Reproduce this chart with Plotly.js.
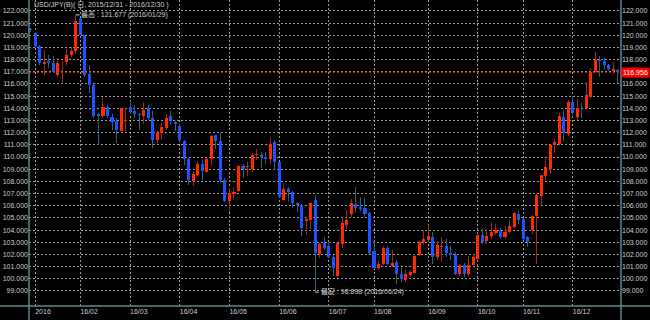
<!DOCTYPE html>
<html>
<head>
<meta charset="utf-8">
<script src="https://cdn.plot.ly/plotly-3.0.1.min.js"></script>
<style>
  html, body { margin: 0; padding: 0; background: #000; }
  #chart { width: 650px; height: 320px; }
</style>
</head>
<body>
<div id="chart"></div>
<script>
// ---- data (USD/JPY candles) ----
const open = [120.5,120.2,119.1,117.65,117.9,117.7,116.7,117.7,117.8,118.35,
118.7,121.3,120.0,116.8,115.9,113.55,113.35,114.15,113.3,113.0,
112.15,113.0,114.15,113.75,113.55,113.4,114.0,113.2,111.4,112.0,
112.4,113.35,112.85,112.55,111.3,109.85,108.0,108.5,109.4,108.75,
109.85,111.8,111.35,108.15,106.4,107.0,107.2,109.3,109.2,109.0,
110.15,110.2,110.0,109.85,111.2,109.55,106.45,107.4,107.1,106.25,
106.05,104.75,104.8,106.45,102.0,102.95,102.7,101.8,100.2,102.85,
104.4,105.35,106.1,105.9,105.85,105.4,102.25,100.85,101.2,102.5,
101.05,101.35,100.35,99.9,100.3,100.45,101.95,103.0,103.2,103.45,
101.75,102.6,102.65,102.1,101.95,100.35,101.1,100.35,101.15,101.65,
103.6,103.1,103.5,103.75,103.9,103.45,103.85,104.25,105.35,104.9,
103.4,104.0,105.15,106.8,108.45,109.05,110.95,111.1,113.3,111.9,
114.55,113.25,114.05,114.0,114.95,117.0,118.0,117.9,117.55,117.05,
117.15];
const high = [120.6,120.3,119.2,118.8,118.4,118.3,118.1,117.8,118.9,119.0,
121.677,121.4,120.05,117.6,116.0,113.6,114.9,114.3,113.5,113.2,
114.0,114.0,114.6,114.3,113.6,114.5,114.3,113.75,112.1,112.8,
113.5,113.8,112.95,112.7,111.4,109.9,108.85,109.6,109.75,109.9,
111.85,111.85,111.95,108.25,107.45,107.55,109.35,109.4,109.6,110.3,
110.7,110.45,110.45,111.55,111.4,109.6,107.9,107.5,107.2,106.3,
106.1,105.1,106.3,106.9,102.9,103.45,102.9,101.95,102.9,105.1,
105.65,106.55,107.5,106.7,106.6,105.45,103.05,101.55,102.65,102.65,
102.35,101.55,101.15,100.7,100.7,102.0,103.1,104.0,104.4,103.85,
103.1,103.45,103.3,102.65,102.2,101.2,101.3,101.9,102.0,103.6,
104.2,104.05,104.7,104.5,104.2,104.3,104.85,105.45,105.6,104.95,
103.5,105.2,106.95,108.55,109.8,111.05,111.45,113.6,113.9,114.7,
115.0,114.8,114.4,116.2,117.35,118.65,118.3,118.1,117.65,117.8,
117.2];
const low = [120.3,119.0,117.6,116.75,117.3,116.9,116.6,116.0,117.6,118.2,
118.5,120.0,116.6,115.3,113.2,111.0,113.2,113.2,112.25,111.15,
112.1,112.1,113.5,113.2,112.25,112.7,113.05,110.75,111.15,111.4,
112.25,112.65,112.1,111.3,109.35,107.7,107.65,108.4,107.9,108.65,
109.3,110.7,107.95,106.3,105.5,106.45,107.15,108.25,108.45,108.75,
109.75,109.1,109.45,109.45,108.9,106.6,106.4,106.4,105.8,105.45,
103.55,103.6,104.1,98.898,101.7,102.4,101.7,100.25,100.05,102.5,
104.1,105.1,105.45,105.6,105.1,102.0,100.8,100.7,101.15,101.15,
100.95,99.55,99.75,99.75,100.15,100.35,101.9,102.8,103.05,101.25,
101.55,101.4,101.8,101.55,100.3,100.2,100.15,100.25,100.9,101.6,
102.85,102.85,103.3,103.6,103.25,103.3,103.75,104.15,104.5,103.2,
102.6,103.7,101.2,106.05,107.85,108.6,110.3,110.9,111.35,111.7,
113.45,113.05,113.2,113.9,114.75,116.9,116.55,117.2,117.1,117.0,
116.05];
const close = [120.4,119.1,117.75,117.8,117.7,117.0,117.7,117.75,118.4,118.7,
121.15,120.05,116.75,115.95,113.35,113.4,114.15,113.35,112.9,112.2,
114.0,113.05,113.7,113.55,113.45,113.9,113.2,111.4,112.0,112.5,
113.2,112.95,112.75,111.4,109.85,108.1,108.6,109.4,108.85,109.85,
111.75,111.35,108.1,106.4,107.05,107.15,109.3,109.05,109.3,110.2,
110.25,110.0,109.8,111.1,109.55,106.7,107.4,107.1,106.2,106.05,
104.2,104.9,106.2,102.1,102.85,102.55,101.8,100.85,102.9,104.55,
104.85,106.2,105.85,105.75,105.3,102.1,100.9,101.25,102.55,101.25,
101.3,100.35,99.95,100.35,100.55,101.9,103.05,103.3,103.55,101.8,
102.8,102.7,102.1,101.95,100.35,101.1,100.35,101.1,101.75,103.6,
103.05,103.5,103.8,104.0,103.45,103.85,104.3,105.4,104.85,103.3,
103.05,105.15,106.85,108.5,109.2,111.0,111.2,113.35,111.95,114.55,
113.6,114.05,114.0,115.1,117.0,118.0,117.9,117.55,117.2,117.25,
116.956];

const xTickIdx    = [1, 11, 22, 33, 44, 55, 66, 76, 88, 99, 109, 120];
const xTickLabels = ['2016','16/02','16/03','16/04','16/05','16/06','16/07','16/08','16/09','16/10','16/11','16/12'];
const yTicks = [99,100,101,102,103,104,105,106,107,108,109,110,111,112,113,114,115,116,117,118,119,120,121,122];
// on the right, the 117 label is hidden under the current-price box
const yTicksRight = [99,100,101,102,103,104,105,106,107,108,109,110,111,112,113,114,115,116,118,119,120,121,122];

const titleText = 'USD/JPY(B)( 日, 2015/12/31 - 2016/12/30 )';
const maxText = '最高 : 121.677 (2016/01/29)';
const minText = '最安 : 98.898 (2016/06/24)';
const maxIdx = 10, minIdx = 63;

// ---- derived ----
const idx = open.map((_, i) => i);
const up = close.map((c, i) => c >= open[i]);
const bodyBase = open.map((o, i) => Math.min(o, close[i]));
const bodyLen = open.map((o, i) => Math.max(Math.abs(close[i] - o), 0.06));
const wickLen = high.map((h, i) => h - low[i]);

const UP_BODY = '#ff2a00', DN_BODY = '#1f52ff';
const UP_WICK = '#9b2c0c', DN_WICK = '#1e6a7c';
const GRID = '#9a9a9a', AXLINE = '#5d8a8a', TXT = '#cfcfcf';
const FONT = '"Liberation Sans", "Noto Sans CJK JP", sans-serif';
const FS = 7;

const wicks = {
  type: 'bar', x: idx, y: wickLen, base: low, width: 0.22,
  marker: { color: up.map(u => u ? UP_WICK : DN_WICK), line: { width: 0 } },
  hoverinfo: 'skip', xaxis: 'x', yaxis: 'y'
};
const bodies = {
  type: 'bar', x: idx, y: bodyLen, base: bodyBase, width: 0.68,
  marker: { color: up.map(u => u ? UP_BODY : DN_BODY), line: { width: 0 } },
  customdata: open.map((o, i) => [o, high[i], low[i], close[i]]),
  hovertemplate: 'O %{customdata[0]}<br>H %{customdata[1]}<br>L %{customdata[2]}<br>C %{customdata[3]}<extra></extra>',
  xaxis: 'x', yaxis: 'y2'
};

const yRange = [97.76, 122.9];
const tickFont = { family: FONT, size: FS, color: TXT };
const lastClose = close[close.length - 1];

const layout = {
  width: 650, height: 320,
  paper_bgcolor: '#000', plot_bgcolor: '#000',
  margin: { l: 29, r: 29, t: 0, b: 14, pad: 0 },
  showlegend: false, barmode: 'overlay', bargap: 0,
  xaxis: {
    range: [-0.376, 130.68], tickmode: 'array', tickvals: xTickIdx, ticktext: xTickLabels,
    ticklabelposition: 'outside right', ticks: '', showgrid: true, gridcolor: GRID,
    griddash: '2px,2px', gridwidth: 1, zeroline: false, showline: false,
    tickfont: tickFont, fixedrange: true
  },
  yaxis: {
    range: yRange, tickmode: 'array', tickvals: yTicks, tickformat: '.3f', side: 'left',
    ticks: '', showgrid: true, gridcolor: GRID, griddash: '2px,2px', gridwidth: 1,
    zeroline: false, showline: false, tickfont: tickFont, fixedrange: true
  },
  yaxis2: {
    range: yRange, overlaying: 'y', side: 'right', tickmode: 'array', tickvals: yTicksRight,
    tickformat: '.3f', ticks: '', showgrid: false,
    zeroline: false, showline: false, tickfont: tickFont, fixedrange: true
  },
  shapes: [
    { type: 'line', xref: 'paper', yref: 'paper', x0: -29/592, x1: 1 + 29/592, y0: 0, y1: 0,
      line: { color: AXLINE, width: 1.5 } },
    { type: 'line', xref: 'paper', yref: 'paper', x0: 0, x1: 0, y0: -14/306, y1: 1,
      line: { color: AXLINE, width: 1.5 } },
    { type: 'line', xref: 'paper', yref: 'paper', x0: 1, x1: 1, y0: -14/306, y1: 1,
      line: { color: AXLINE, width: 1.5 } },
    { type: 'line', xref: 'paper', yref: 'y', x0: 0, x1: 1, y0: lastClose, y1: lastClose,
      line: { color: '#ff1a00', width: 1, dash: '2px,2px' } },
    { type: 'line', xref: 'x', yref: 'y', x0: maxIdx, x1: maxIdx + 0.8, y0: high[maxIdx], y1: high[maxIdx],
      line: { color: TXT, width: 1 } },
    { type: 'line', xref: 'x', yref: 'y', x0: minIdx, x1: minIdx + 0.8, y0: low[minIdx], y1: low[minIdx],
      line: { color: TXT, width: 1 } }
  ],
  annotations: [
    { xref: 'paper', yref: 'paper', x: 3/592, y: 1 - 5/306, xanchor: 'left', yanchor: 'middle',
      text: titleText, showarrow: false, font: { family: FONT, size: FS, color: TXT } },
    { xref: 'x', yref: 'y', x: maxIdx + 0.8, y: high[maxIdx], xanchor: 'left', yanchor: 'middle',
      text: maxText, showarrow: false, font: { family: FONT, size: FS, color: TXT } },
    { xref: 'x', yref: 'y', x: minIdx + 0.8, y: low[minIdx], xanchor: 'left', yanchor: 'middle',
      text: minText, showarrow: false, font: { family: FONT, size: FS, color: TXT } },
    { xref: 'paper', yref: 'y', x: 1, y: lastClose, xanchor: 'left', yanchor: 'middle', xshift: 0,
      text: lastClose.toFixed(3), showarrow: false, bgcolor: '#ff0000', borderpad: 1,
      font: { family: FONT, size: FS, color: '#ffffff' } }
  ]
};

Plotly.newPlot('chart', [wicks, bodies], layout, { displayModeBar: false, staticPlot: true });
</script>
</body>
</html>
